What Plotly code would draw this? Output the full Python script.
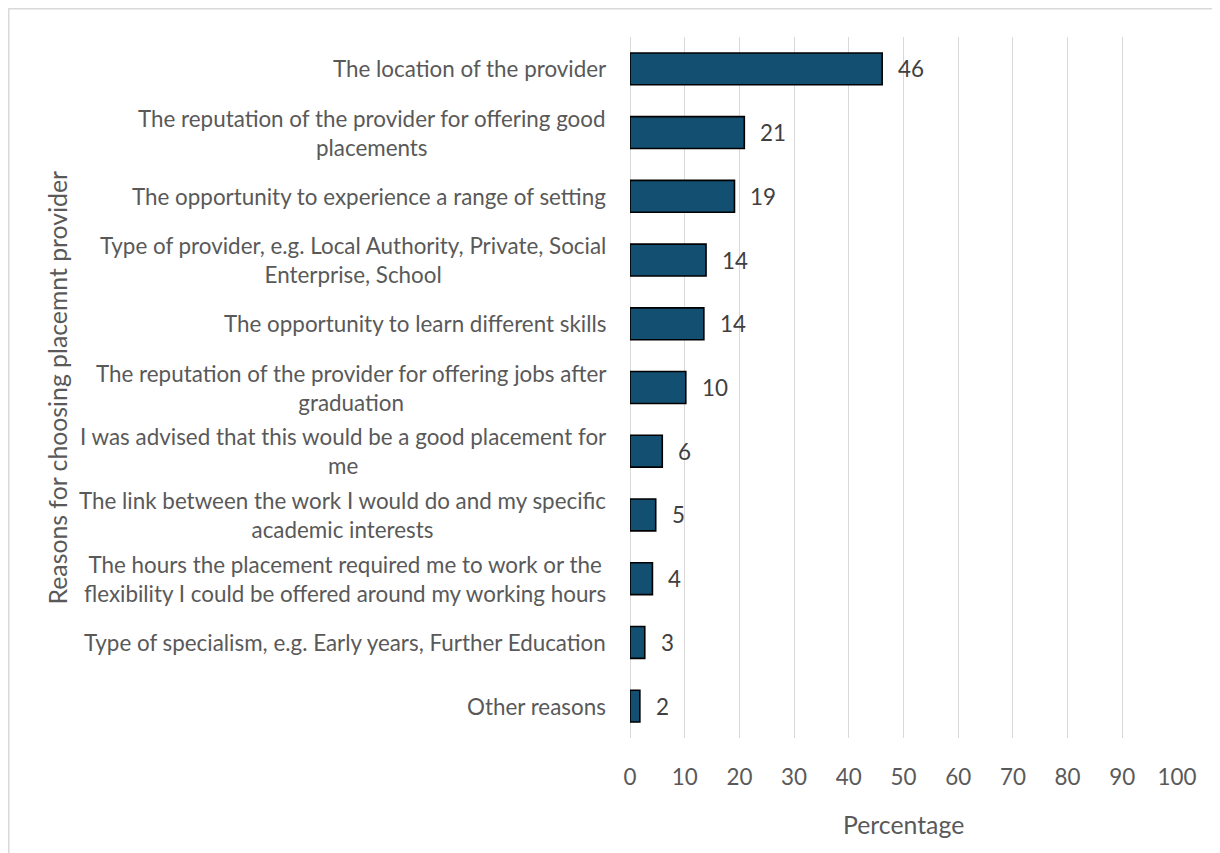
import plotly.graph_objects as go

categories = [
    "The location of the provider",
    "The reputation of the provider for offering good<br>placements",
    "The opportunity to experience a range of setting",
    "Type of provider, e.g. Local Authority, Private, Social<br>Enterprise, School",
    "The opportunity to learn different skills",
    "The reputation of the provider for offering jobs after<br>graduation",
    "I was advised that this would be a good placement for<br>me",
    "The link between the work I would do and my specific<br>academic interests",
    "The hours the placement required me to work or the<br>flexibility I could be offered around my working hours",
    "Type of specialism, e.g. Early years, Further Education",
    "Other reasons",
]
values = [46.1, 20.9, 19.1, 13.9, 13.5, 10.2, 5.9, 4.7, 4.1, 2.7, 1.8]
value_labels = ["46", "21", "19", "14", "14", "10", "6", "5", "4", "3", "2"]
x_ticks = [0, 10, 20, 30, 40, 50, 60, 70, 80, 90, 100]
x_title = "Percentage"
y_title = "Reasons for choosing placemnt provider"

FONT = "Lato"
LABEL_SIZE = 22.4
TITLE_SIZE = 24.8
TEXT_COLOR = "#595959"

W, H = 1212, 845
L, R, T, B = 622, 43, 29, 115
PW = W - L - R
PH = H - T - B

fig = go.Figure()
fig.add_trace(go.Bar(
    x=values,
    y=categories,
    orientation="h",
    marker=dict(color="#124F71", line=dict(color="#000000", width=1.6)),
    hoverinfo="x+y",
))

annotations = []
for c in categories:
    annotations.append(dict(
        x=0, xref="paper", y=c, yref="y",
        text=c, showarrow=False, xanchor="right", yanchor="middle",
        align="center", xshift=-22,
        font=dict(family=FONT, size=LABEL_SIZE, color=TEXT_COLOR),
    ))
for c, v, lab in zip(categories, values, value_labels):
    annotations.append(dict(
        x=v, xref="x", y=c, yref="y",
        text=lab, showarrow=False, xanchor="left", yanchor="middle",
        xshift=14,
        font=dict(family=FONT, size=LABEL_SIZE, color="#404040"),
    ))
annotations.append(dict(
    x=0.5, xref="paper", y=0, yref="paper", text=x_title, showarrow=False,
    xanchor="center", yanchor="middle", yshift=-86,
    font=dict(family=FONT, size=TITLE_SIZE, color=TEXT_COLOR),
))
annotations.append(dict(
    x=0, xref="paper", y=0.5, yref="paper", text=y_title, showarrow=False,
    xanchor="center", yanchor="middle", xshift=-(L - 49), textangle=-90,
    font=dict(family=FONT, size=TITLE_SIZE, color=TEXT_COLOR),
))

fig.update_layout(
    width=W, height=H,
    margin=dict(l=L, r=R, t=T, b=B, autoexpand=False),
    paper_bgcolor="white", plot_bgcolor="white",
    bargap=0.5,
    showlegend=False,
    annotations=annotations,
    font=dict(family=FONT, size=LABEL_SIZE, color=TEXT_COLOR),
    xaxis=dict(
        range=[0, 100], tickvals=x_ticks, ticktext=[str(t) for t in x_ticks],
        showgrid=True, gridcolor="#D9D9D9", gridwidth=1.3,
        zeroline=True, zerolinecolor="#D9D9D9", zerolinewidth=1.3,
        showline=False, ticks="", ticklabelstandoff=24,
        tickfont=dict(family=FONT, size=LABEL_SIZE, color=TEXT_COLOR),
        fixedrange=True,
    ),
    yaxis=dict(
        autorange="reversed", showticklabels=False, showgrid=False,
        zeroline=False, showline=False, ticks="", fixedrange=True,
    ),
    shapes=[dict(
        type="rect", xref="paper", yref="paper",
        x0=(0.75 - L) / PW, x1=(W + 20 - L) / PW,
        y0=-(B + 20) / PH, y1=(PH + T - 0.75) / PH,
        line=dict(color="#D9D9D9", width=1.5), fillcolor="rgba(0,0,0,0)",
        layer="below",
    )],
)

fig.write_html("out.html")
